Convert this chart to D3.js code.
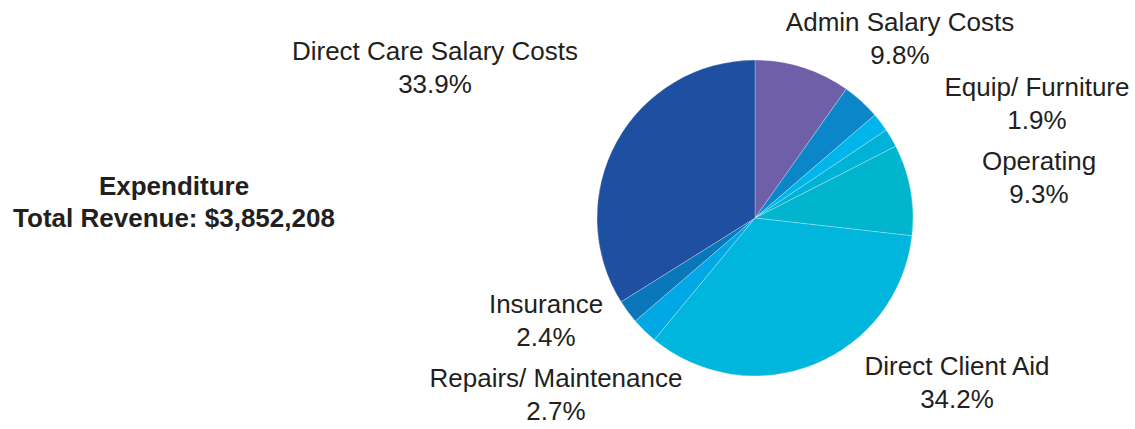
<!DOCTYPE html>
<html><head><meta charset="utf-8">
<script src="https://cdn.jsdelivr.net/npm/d3@7"></script>
<style>body{margin:0;background:#fff}svg{display:block}text{font-family:"Liberation Sans",Arial,Helvetica,sans-serif;fill:#231f20}</style>
</head><body>
<svg id="c" width="1135" height="429"></svg>
<script>
const categories = ["Admin Salary Costs","Other Admin","Equip/ Furniture","Other Operating","Operating","Direct Client Aid","Repairs/ Maintenance","Insurance","Direct Care Salary Costs"];
const values = [9.8, 3.9, 1.9, 1.9, 9.3, 34.2, 2.7, 2.4, 33.9];
const colors = ["#6f5ea8","#0b87c9","#00b4ec","#00b3d6","#00b5cd","#00b6dc","#00a9e6","#0a77bb","#1f4fa0"];
const labelShown = [true,false,true,false,true,true,true,true,true];
const labelPos = [[900,31],null,[1037,96],null,[1039,170],[957,375],[556,387],[546,313],[435,60]];
const titleLines = ["Expenditure","Total Revenue: $3,852,208"];

const svg = d3.select("#c");
const cx = 755, cy = 218, r = 158;
const pie = d3.pie().sort(null).value(d => d)(values);
const arc = d3.arc().innerRadius(0).outerRadius(r);
const g = svg.append("g").attr("transform", `translate(${cx},${cy})`);
g.selectAll("path").data(pie).join("path")
  .attr("d", arc)
  .attr("fill", (d,i) => colors[i])
  .attr("stroke", "rgba(255,255,255,0.45)")
  .attr("stroke-width", 0.6);

const fmt = d3.format(".1f");
categories.forEach((c,i) => {
  if (!labelShown[i]) return;
  const [x,y] = labelPos[i];
  const t = svg.append("text").attr("text-anchor","middle").attr("font-size",26);
  t.append("tspan").attr("x",x).attr("y",y).text(c);
  t.append("tspan").attr("x",x).attr("y",y+33).text(fmt(values[i]) + "%");
});

const tt = svg.append("text").attr("text-anchor","middle").attr("font-size",26).attr("font-weight","bold");
titleLines.forEach((l,i) => tt.append("tspan").attr("x",174).attr("y",195 + i*32).text(l));
</script>
</body></html>
